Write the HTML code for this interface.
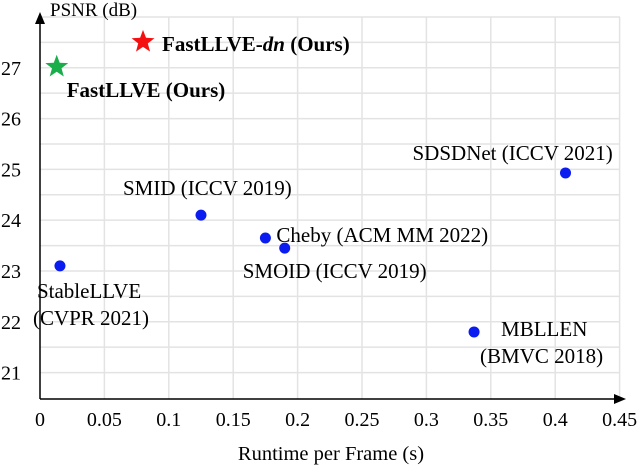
<!DOCTYPE html>
<html><head><meta charset="utf-8"><style>
html,body{margin:0;padding:0;background:#fff;}
svg{display:block;font-family:"Liberation Serif",serif;}
</style></head><body>
<svg id="chart" width="640" height="465" viewBox="0 0 640 465">
<g id="grid"></g>
<g id="axes"></g>
<g id="marks"></g>
</svg>
<script>
const methods=["FastLLVE-dn","FastLLVE","StableLLVE","SMID","Cheby","SMOID","SDSDNet","MBLLEN"];
const runtimes=[0.080,0.013,0.0155,0.125,0.175,0.190,0.408,0.337];
const psnrs=[27.51,27.02,23.10,24.10,23.65,23.45,24.93,21.80];
const xTicks=[0,0.05,0.1,0.15,0.2,0.25,0.3,0.35,0.4,0.45];
const yTicks=[21,22,23,24,25,26,27];
const NS="http://www.w3.org/2000/svg";
const X0=40,Y0=399,XS=1288,YS=50.8;
function xs(v){return X0+v*XS;}
function ys(v){return Y0-(v-20.48)*YS;}
function mk(tag,attrs,parent,txt){const e=document.createElementNS(NS,tag);for(const k in attrs)e.setAttribute(k,attrs[k]);if(txt!==undefined)e.textContent=txt;parent.appendChild(e);return e;}
const grid=document.getElementById('grid'),axes=document.getElementById('axes'),marks=document.getElementById('marks');
for(let i=1;i<=9;i++){const l=mk('line',{x1:xs(i*0.05),x2:xs(i*0.05),y1:17,y2:Y0,stroke:'#e3e3e3','stroke-width':1.5},grid);

}
for(let v=21;v<=28;v+=0.5){const l=mk('line',{x1:X0,x2:620,y1:ys(v),y2:ys(v),stroke:'#e3e3e3','stroke-width':1.5},grid);

}
let a=mk('line',{x1:X0,x2:X0,y1:Y0,y2:22,stroke:'#000','stroke-width':1.5},axes);


a=mk('polygon',{points:`${X0-5},24 ${X0+5},24 ${X0},12`,fill:'#000'},axes);


a=mk('line',{x1:X0,x2:616,y1:Y0,y2:Y0,stroke:'#000','stroke-width':1.5},axes);


a=mk('polygon',{points:`614,${Y0-5} 614,${Y0+5} 626,${Y0}`,fill:'#000'},axes);


xTicks.forEach(t=>{const e=mk('text',{x:xs(t),y:426,'font-size':20,'text-anchor':'middle'},axes,String(t));

});
yTicks.forEach(t=>{const e=mk('text',{x:21,y:ys(t)+7,'font-size':20,'text-anchor':'end'},axes,String(t));

});
a=mk('text',{x:50,y:16,'font-size':19},axes,'PSNR (dB)');


a=mk('text',{x:331,y:460,'font-size':20.5,'text-anchor':'middle'},axes,'Runtime per Frame (s)');


function star(cx,cy,r,fill){let p=[];for(let i=0;i<10;i++){const rr=i%2?r*0.42:r;const an=-Math.PI/2+i*Math.PI/5;p.push((cx+rr*Math.cos(an)).toFixed(1)+','+(cy+rr*Math.sin(an)).toFixed(1));}return mk('polygon',{points:p.join(' '),fill:fill},marks);}
const labels=[
 [{t:'FastLLVE-',i:'dn',b:'  (Ours)',dx:19,dy:9}],
 [{t:'FastLLVE (Ours)',dx:10,dy:30}],
 [{t:'StableLLVE',dx:-23,dy:32},{t:'(CVPR 2021)',dx:-27,dy:59}],
 [{t:'SMID (ICCV 2019)',dx:-78,dy:-20}],
 [{t:'Cheby (ACM MM 2022)',dx:11,dy:4}],
 [{t:'SMOID (ICCV 2019)',dx:-42,dy:30}],
 [{t:'SDSDNet (ICCV 2021)',dx:-153,dy:-13}],
 [{t:'MBLLEN',dx:27,dy:4},{t:'(BMVC 2018)',dx:6,dy:31}]
];
methods.forEach((m,k)=>{const cx=xs(runtimes[k]),cy=ys(psnrs[k]);let e;
 if(k===0)e=star(cx,cy,12,'#f41010');else if(k===1)e=star(cx,cy,12,'#1aae4a');else e=mk('circle',{cx:cx,cy:cy,r:5.5,fill:'#0a1cf0'},marks);
 
 
 labels[k].forEach(L=>{const t=mk('text',{x:cx+L.dx,y:cy+L.dy,'font-size':21},marks);
  if(k<2)t.setAttribute('font-weight','bold');
  t.setAttribute('xml:space','preserve');
  mk('tspan',{},t,L.t);
  if(L.i){mk('tspan',{'font-style':'italic'},t,L.i);mk('tspan',{},t,L.b);}
  
  });
});
</script>
</body></html>
